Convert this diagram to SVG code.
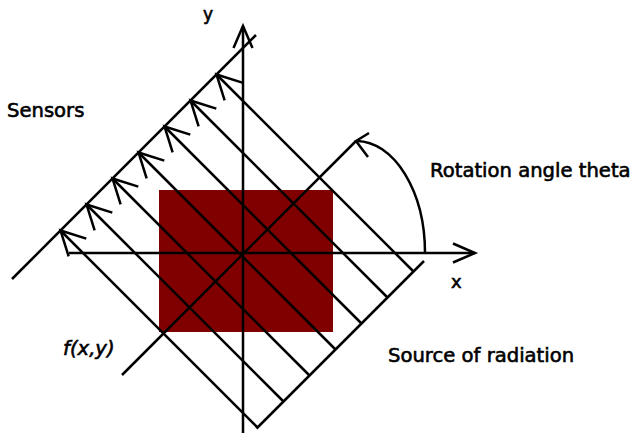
<svg xmlns="http://www.w3.org/2000/svg" width="635" height="433" viewBox="0 0 635 433">
  <style>
    .ln { stroke: #000; stroke-width: 2.5; fill: none; stroke-linecap: butt; }
    .lbl { font-family: "DejaVu Sans", Verdana, sans-serif; font-size: 19.6px; fill: #000; stroke: #000; stroke-width: 0.6px; }
    .ax { font-family: "DejaVu Sans", Verdana, sans-serif; fill: #000; stroke: #000; stroke-width: 0.6px; }
  </style>
  <defs>
    <marker id="ray" markerUnits="userSpaceOnUse" markerWidth="40" markerHeight="40" refX="0" refY="0" viewBox="-30 -20 40 40" orient="auto" overflow="visible">
      <path d="M -24 -12.5 L 0 0 L -24 12.5" fill="none" stroke="#000" stroke-width="2.5"/>
    </marker>
    <marker id="axis" markerUnits="userSpaceOnUse" markerWidth="40" markerHeight="40" refX="0" refY="0" viewBox="-30 -20 40 40" orient="auto" overflow="visible">
      <path d="M -22 -9.5 L 0 0 L -22 9.5" fill="none" stroke="#000" stroke-width="2.5"/>
    </marker>
  </defs>

  <g id="object">
    <rect x="159" y="190" width="174" height="142" fill="#800000"/>
  </g>

  <g id="connectors">
    <g id="rays">
      <line class="ln" x1="257.5" y1="427.5" x2="60.5" y2="230.5" marker-end="url(#ray)"/>
      <line class="ln" x1="283.5" y1="401.5" x2="86.5" y2="204.5" marker-end="url(#ray)"/>
      <line class="ln" x1="309.5" y1="375.5" x2="112.5" y2="178.5" marker-end="url(#ray)"/>
      <line class="ln" x1="335.5" y1="349.5" x2="138.5" y2="152.5" marker-end="url(#ray)"/>
      <line class="ln" x1="361.5" y1="323.5" x2="164.5" y2="126.5" marker-end="url(#ray)"/>
      <line class="ln" x1="387.5" y1="297.5" x2="190.5" y2="100.5" marker-end="url(#ray)"/>
      <line class="ln" x1="413.5" y1="271.5" x2="216.5" y2="74.5" marker-end="url(#ray)"/>
    </g>
    <g id="axes">
      <line class="ln" x1="243" y1="433" x2="243" y2="26" marker-end="url(#axis)"/>
      <line class="ln" x1="69" y1="253" x2="475" y2="253" marker-end="url(#axis)"/>
      <line class="ln" x1="122" y1="375" x2="356" y2="141"/>
    </g>
    <g id="rotation">
      <path class="ln" d="M 425 253 A 69 112 0 0 0 357 141"/>
      <path class="ln" d="M 369 133 L 356 141 L 368 157"/>
    </g>
  </g>

  <g id="sensors">
    <line class="ln" x1="12" y1="279" x2="256" y2="35"/>
  </g>
  <g id="source">
    <line class="ln" x1="256.5" y1="428.5" x2="424" y2="261"/>
  </g>

  <g id="labels">
    <text class="ax" x="203" y="20" font-size="17">y</text>
    <text class="ax" x="451" y="288" font-size="18">x</text>
    <text class="lbl" x="7" y="117">Sensors</text>
    <text class="lbl" x="430" y="177">Rotation angle theta</text>
    <text class="lbl" x="388" y="362">Source of radiation</text>
    <text class="lbl" x="63" y="355" font-style="italic">f(x,y)</text>
  </g>
</svg>
